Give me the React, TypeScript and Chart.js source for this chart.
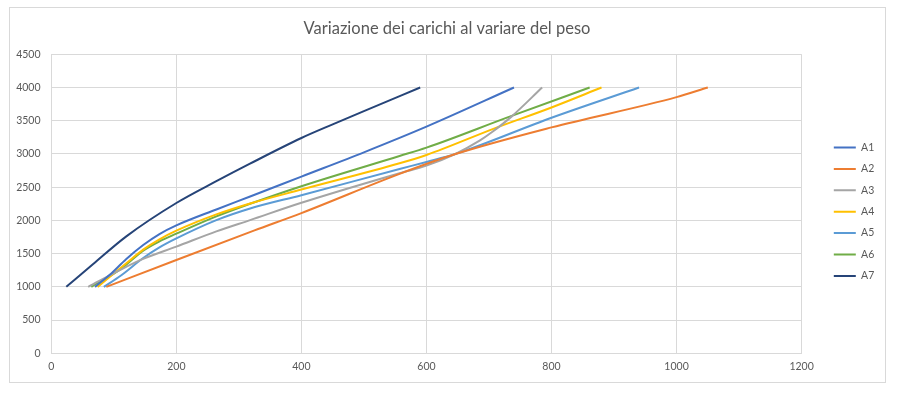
import React, { useEffect, useRef } from 'react';
import { Chart, registerables } from 'chart.js';

Chart.register(...registerables);

const chartTitle = 'Variazione dei carichi al variare del peso';
const seriesNames = ['A1', 'A2', 'A3', 'A4', 'A5', 'A6', 'A7'];
const seriesColors = ['#4472C4', '#ED7D31', '#A5A5A5', '#FFC000', '#5B9BD5', '#70AD47', '#264478'];

const a1X = [70, 94, 120, 147, 173, 200, 264, 318, 400, 500, 600, 740];
const a1Y = [1000, 1185, 1420, 1630, 1795, 1925, 2165, 2360, 2660, 3025, 3411, 4000];

const a2X = [88, 200, 325, 400, 557, 645, 800, 1000, 1050];
const a2Y = [1000, 1405, 1850, 2110, 2700, 2995, 3400, 3855, 4000];

const a3X = [59, 112, 147, 200, 264, 318, 400, 557, 600, 645, 685, 705, 736, 785];
const a3Y = [1000, 1264, 1420, 1605, 1835, 2005, 2265, 2710, 2824, 2995, 3200, 3330, 3562, 4000];

const a4X = [74, 120, 147, 173, 200, 264, 318, 400, 557, 600, 709, 800, 880];
const a4Y = [1000, 1355, 1560, 1715, 1845, 2090, 2255, 2465, 2860, 2985, 3386, 3700, 4000];

const a5X = [84, 112, 147, 173, 200, 264, 318, 400, 557, 600, 645, 800, 940];
const a5Y = [1000, 1175, 1435, 1595, 1730, 2005, 2180, 2380, 2774, 2880, 2995, 3545, 4000];

const a6X = [64, 112, 147, 173, 200, 264, 318, 400, 557, 600, 733, 861];
const a6Y = [1000, 1275, 1545, 1685, 1800, 2060, 2250, 2515, 2970, 3095, 3562, 4000];

const a7X = [24, 67, 120, 200, 264, 317, 400, 450, 500, 590];
const a7Y = [1000, 1344, 1760, 2262, 2590, 2850, 3240, 3445, 3645, 4000];

const xMin = 0;
const xMax = 1200;
const xStep = 200;
const yMin = 0;
const yMax = 4500;
const yStep = 500;

const TEXT = '#595959';
const GRID = '#D9D9D9';
const FONT = 'Lato';

export default function App() {
  const ref = useRef<HTMLCanvasElement | null>(null);

  useEffect(() => {
    if (!ref.current) return;
    const xs = [a1X, a2X, a3X, a4X, a5X, a6X, a7X];
    const ys = [a1Y, a2Y, a3Y, a4Y, a5Y, a6Y, a7Y];
    const datasets = seriesNames.map((name, i) => ({
      label: name,
      data: xs[i].map((x, j) => ({ x, y: ys[i][j] })),
      borderColor: seriesColors[i],
      backgroundColor: seriesColors[i],
      borderWidth: 2,
      pointRadius: 0,
      pointHoverRadius: 0,
      showLine: true,
      fill: false,
      cubicInterpolationMode: 'monotone' as const,
      xAxisID: 'x',
      yAxisID: 'y',
    }));

    const plain = (v: any) => String(v);

    const chart = new Chart(ref.current, {
      type: 'scatter',
      data: { datasets },
      options: {
        animation: false,
        responsive: false,
        devicePixelRatio: 1,
        layout: { padding: { left: 9.75, right: 18.75, top: 0, bottom: -24.4 } },
        plugins: {
          title: {
            display: true,
            text: chartTitle,
            color: TEXT,
            font: { family: FONT, size: 16.5, weight: 'normal', lineHeight: 1.2 },
            padding: { top: 18.5, bottom: 16 },
          },
          legend: {
            position: 'right',
            labels: {
              usePointStyle: true,
              pointStyle: 'line',
              pointStyleWidth: 22,
              padding: 10.9,
              color: TEXT,
              font: { family: FONT, size: 10.5 },
            },
          },
          tooltip: { enabled: false },
        },
        scales: {
          x: {
            type: 'linear',
            min: xMin,
            max: xMax,
            ticks: { stepSize: xStep, color: TEXT, font: { family: FONT, size: 10.5 }, padding: 7, callback: plain },
            grid: { color: GRID, drawTicks: false },
            border: { color: GRID },
            afterFit: (s: any) => { s.height = 70.1; },
          },
          y: {
            type: 'linear',
            min: yMin,
            max: yMax,
            ticks: { stepSize: yStep, color: TEXT, font: { family: FONT, size: 10.5 }, padding: 10.8, callback: plain },
            grid: { color: GRID, drawTicks: false },
            border: { color: GRID },
            afterFit: (s: any) => { s.width = 41.55; },
          },
          yPad: {
            type: 'linear',
            axis: 'y',
            position: 'right',
            display: true,
            grid: { display: false, drawTicks: false },
            border: { display: false },
            ticks: { display: false },
            afterFit: (s: any) => { s.width = 21.3; },
          },
        },
      } as any,
    });
    return () => chart.destroy();
  }, []);

  return (
    <div style={{ position: 'absolute', left: 0, top: 0, width: 903, height: 399, background: '#ffffff' }}>
      <canvas ref={ref} width={903} height={399} style={{ display: 'block', width: 903, height: 399 }} />
      <div
        style={{
          position: 'absolute',
          left: 9,
          top: 7,
          width: 877,
          height: 376,
          border: '1px solid #D9D9D9',
          boxSizing: 'border-box',
          pointerEvents: 'none',
        }}
      />
    </div>
  );
}
